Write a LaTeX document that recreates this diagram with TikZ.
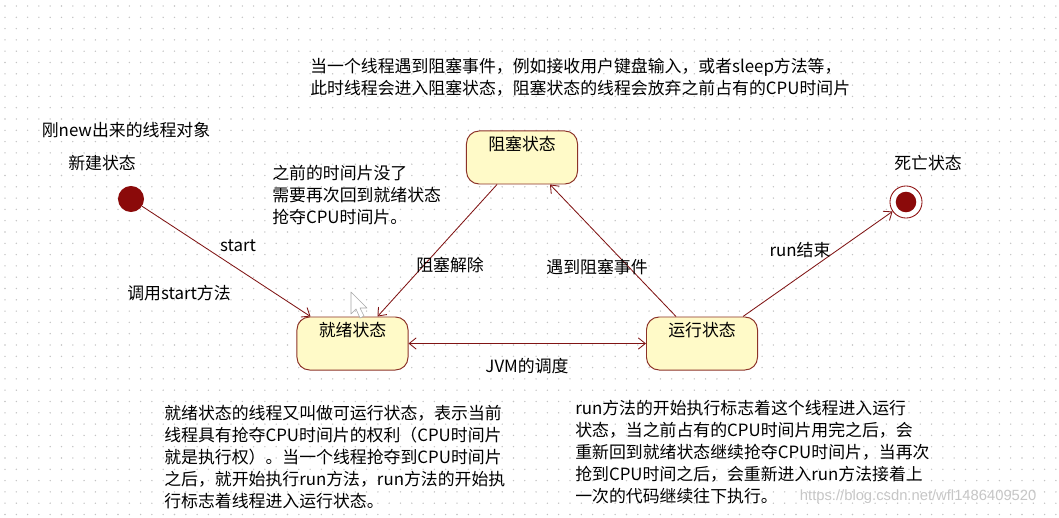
\documentclass[tikz,border=0pt]{standalone}
\usepackage{fontspec}
\setmainfont{Noto Sans CJK SC}
\newfontfamily\wmfont{Liberation Sans}
\usetikzlibrary{arrows.meta,calc}
\definecolor{statered}{RGB}{139,10,10}
\definecolor{lineclr}{RGB}{128,20,20}
\definecolor{statefill}{RGB}{255,250,200}
\definecolor{borderclr}{RGB}{140,50,40}
\definecolor{dotgray}{RGB}{195,195,195}

\begin{document}
\begin{tikzpicture}[x=0.025cm, y=-0.025cm,
	state/.style={ draw=borderclr, fill=statefill, rounded corners=9pt, line width=0.7pt, minimum width=2.775cm, minimum height=1.325cm, align=center, inner sep=0pt },
	startstate/.style={ circle, fill=statered, inner sep=0pt, minimum size=18.5pt },
	endstate/.style={ circle, draw=statered, line width=0.6pt, fill=white, inner sep=0pt, minimum size=22.8pt },
	trans/.style={ draw=lineclr, line width=0.6pt, -{Straight Barb[length=5pt,width=8pt]} },
	note/.style={ align=left, inner sep=0pt, anchor=west },
	every node/.style={ font=\fontsize{12}{15.5}\selectfont }
]

\useasboundingbox (0,0) rectangle (1059,518);
\fill[white] (0,0) rectangle (1059,518);
\foreach \i in {0,...,93}
	\foreach \j in {0,...,45}
		\fill[dotgray] (5+\i*11.3,6+\j*11.3) circle (0.55pt);

\node[startstate] (init) at (131,199) {};
\node[endstate] (final) at (906,202) {};
\fill[statered] (final.center) circle (7.3pt);
\node[state] at (522,157.5) (blk) {阻塞状态\\\strut};
\node[state] at (352.5,343.5) (rdy) {就绪状态\\\strut};
\node[state] at (702,343.5) (run) {运行状态\\\strut};

\draw[trans] (init) to ($(rdy.north west)+(14,0)$);
\draw[trans] ($(blk.south)+(-25,0)$) to ($(rdy.north)+(25,0)$);
\draw[trans] ($(run.north)+(-26,0)$) to ($(blk.south)+(28,0)$);
\draw[trans] ($(run.north)+(41,0)$) to (final);
\draw[trans, {Straight Barb[length=5pt,width=8pt]}-{Straight Barb[length=5pt,width=8pt]}] (rdy.east) to (run.west);

\node at (126,130) (newnote) {刚new出来的线程对象};
\node at (102,163) (newname) {新建状态};
\node at (928,163) (deadname) {死亡状态};
\node at (238,246) (startlbl) {start};
\node at (179,293) (calllbl) {调用start方法};
\node at (450,265) (unblk) {阻塞解除};
\node at (597,267) (toblk) {遇到阻塞事件};
\node at (800,250) (runend) {run结束};
\node at (527,366) (jvm) {JVM的调度};

\node[note] at (272,195) (backnote) {之前的时间片没了\\需要再次回到就绪状态\\抢夺CPU时间片。};
\node[note] at (310,77) (blknote) {当一个线程遇到阻塞事件，例如接收用户键盘输入，或者sleep方法等，\\此时线程会进入阻塞状态，阻塞状态的线程会放弃之前占有的CPU时间片};
\node[note] at (164,457) (rdynote) {就绪状态的线程又叫做可运行状态，表示当前\\线程具有抢夺CPU时间片的权利（CPU时间片\\就是执行权）。当一个线程抢夺到CPU时间片\\之后，就开始执行run方法，run方法的开始执\\行标志着线程进入运行状态。};
\node[note] at (575,452) (runnote) {run方法的开始执行标志着这个线程进入运行\\状态，当之前占有的CPU时间片用完之后，会\\重新回到就绪状态继续抢夺CPU时间片，当再次\\抢到CPU时间之后，会重新进入run方法接着上\\一次的代码继续往下执行。};

% mouse pointer
\draw[gray!70, fill=white, line join=round] (351,292) -- (351,314) -- (356,309) -- (360,318) -- (364,316) -- (360,308) -- (367,308) -- cycle;

\node[anchor=west, text=gray!45, font=\wmfont\fontsize{10.5}{12}\selectfont] at (795,497) (wm) {https://blog.csdn.net/wfl1486409520};

\end{tikzpicture}
\end{document}
